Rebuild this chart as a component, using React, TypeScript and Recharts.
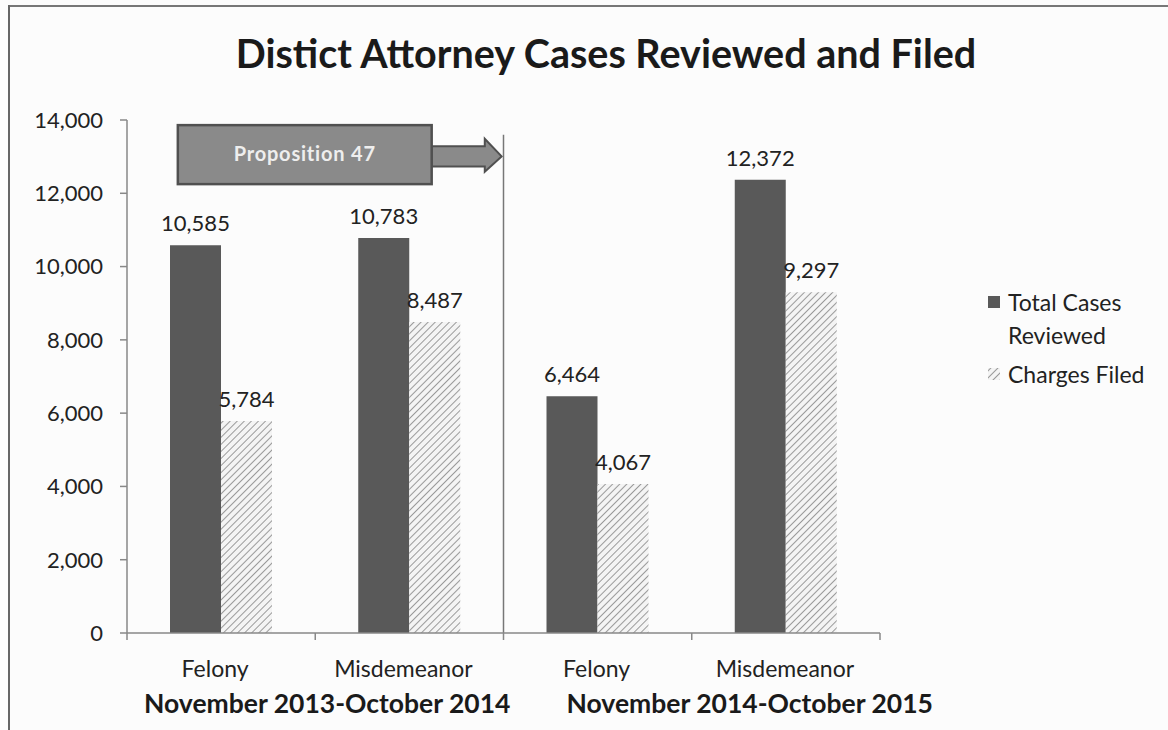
import React from 'react';
import { BarChart, Bar, XAxis, YAxis, LabelList, ReferenceLine, ReferenceArea } from 'recharts';

const categories = ['Felony', 'Misdemeanor', 'Felony', 'Misdemeanor'];
const periods = ['November 2013-October 2014', 'November 2014-October 2015'];
const totalReviewed = [10585, 10783, 6464, 12372];
const chargesFiled = [5784, 8487, 4067, 9297];
const yTicks = [0, 2000, 4000, 6000, 8000, 10000, 12000, 14000];
const seriesNames = ['Total Cases Reviewed', 'Charges Filed'];
const titleText = 'Distict Attorney Cases Reviewed and Filed';
const annotationText = 'Proposition 47';

const data = categories.map((c, i) => ({
  idx: i,
  category: c,
  period: periods[Math.floor(i / 2)],
  reviewed: totalReviewed[i],
  filed: chargesFiled[i],
}));

const W = 1168;
const H = 730;
const M = { top: 120, right: 288, left: 27, bottom: 37 };
const Y_W = 100;
const PLOT_W = W - M.left - M.right - Y_W;
const BW = PLOT_W / categories.length;
const FONT = 'Lato, "Open Sans", sans-serif';
const DARK = '#595959';
const GROUP_SHIFT = [12, 58];

const fmt = (v: number) => v.toLocaleString('en-US');

const CatTick = (props: any) => {
  const { x, y, payload, index } = props;
  const i = payload.value as number;
  const ax = y - 8;
  return (
    <g>
      <line x1={x - BW / 2} x2={x - BW / 2} y1={ax} y2={ax + 7} stroke="#888" strokeWidth={1.5} />
      {index === categories.length - 1 && (
        <line x1={x + BW / 2} x2={x + BW / 2} y1={ax} y2={ax + 7} stroke="#888" strokeWidth={1.5} />
      )}
      <text x={x - (i < 2 ? 6 : 1)} y={ax + 44} textAnchor="middle" fontSize={23} fill="#222" fontFamily={FONT}>
        {categories[i]}
      </text>
      {i % 2 === 0 && (
        <text x={x + BW / 2 + GROUP_SHIFT[i / 2]} y={ax + 80} textAnchor="middle" fontSize={26.5} fontWeight="bold" fill="#1a1a1a" fontFamily={FONT}>
          {periods[Math.floor(i / 2)]}
        </text>
      )}
    </g>
  );
};

const ArrowShape = (props: any) => {
  const { x, y, width, height } = props;
  const bw = width * 0.784;
  const hx = x + width * 0.948;
  const tip = x + width;
  const s1 = y + height * 0.36;
  const s2 = y + height * 0.7;
  const h1 = y + height * 0.23;
  const h2 = y + height * 0.79;
  const pts = [
    [x + bw, s1], [hx, s1], [hx, h1], [tip, (s1 + s2) / 2], [hx, h2], [hx, s2], [x + bw, s2],
  ].map((p) => p.join(',')).join(' ');
  return (
    <g>
      <polygon points={pts} fill="#8a8a8a" stroke="#505050" strokeWidth={2} />
      <rect x={x} y={y} width={bw} height={height} fill="#8a8a8a" stroke="#505050" strokeWidth={2.5} />
      <text x={x + bw / 2} y={y + height / 2 + 6} textAnchor="middle" fontSize={20} fontWeight="bold" fill="#eeeeee" fontFamily={FONT} letterSpacing={0.8}>
        {annotationText}
      </text>
    </g>
  );
};

const Legend = () => (
  <div style={{ position: 'absolute', left: 986, top: 286, fontFamily: FONT, fontSize: 23, color: '#222', lineHeight: '33px' }}>
    <div style={{ display: 'flex', alignItems: 'flex-start' }}>
      <svg width={16} height={33} style={{ marginRight: 6 }}>
        <rect x={2} y={10} width={12} height={12} fill={DARK} />
      </svg>
      <div style={{ width: 150 }}>{seriesNames[0].replace(' Reviewed', '')}<br />Reviewed</div>
    </div>
    <div style={{ display: 'flex', alignItems: 'flex-start', marginTop: 6 }}>
      <svg width={16} height={33} style={{ marginRight: 6 }}>
        <rect x={2} y={10} width={12} height={12} fill="url(#hatch)" />
      </svg>
      <div style={{ whiteSpace: 'nowrap' }}>{seriesNames[1]}</div>
    </div>
  </div>
);

export default function App() {
  return (
    <div style={{ position: 'fixed', left: 0, top: 0, width: W, height: H, background: '#fcfcfc', overflow: 'hidden' }}>
      <div style={{ position: 'absolute', left: 8, top: 5, width: 1160, height: 2, background: '#777' }} />
      <div style={{ position: 'absolute', left: 8, top: 5, width: 2, height: 725, background: '#666' }} />
      <div style={{ position: 'absolute', left: 22, top: 29, width: W, textAlign: 'center', fontFamily: FONT, fontWeight: 'bold', fontSize: 39.5, color: '#1a1a1a' }}>
        {titleText}
      </div>
      <div style={{ position: 'absolute', left: 0, top: 0 }}>
        <BarChart width={W} height={H} data={data} margin={M} barGap={0} barSize={51}>
          <defs>
            <pattern id="hatch" patternUnits="userSpaceOnUse" width={5} height={5} patternTransform="rotate(45)">
              <rect width={5} height={5} fill="#f4f4f4" />
              <line x1={0} y1={0} x2={0} y2={5} stroke="#9a9a9a" strokeWidth={2} />
            </pattern>
          </defs>
          <XAxis dataKey="idx" type="category" tick={<CatTick />} tickLine={false} axisLine={{ stroke: '#888', strokeWidth: 1.5 }} height={60} interval={0} />
          <XAxis xAxisId="n" dataKey="idx" type="number" domain={[-0.5, 3.5]} allowDataOverflow hide />
          <YAxis
            domain={[0, 14000]}
            ticks={yTicks}
            width={Y_W}
            tickFormatter={fmt}
            tick={{ fontSize: 22, fill: '#222', fontFamily: FONT }}
            tickSize={7}
            tickMargin={17}
            axisLine={{ stroke: '#888', strokeWidth: 1.5 }}
            tickLine={{ stroke: '#888', strokeWidth: 1.5 }}
            interval={0}
          />
          <Bar dataKey="reviewed" name={seriesNames[0]} fill={DARK} isAnimationActive={false}>
            <LabelList dataKey="reviewed" position="top" offset={14} formatter={(v: any) => fmt(Number(v))} style={{ fontSize: 22, fill: '#222', fontFamily: FONT }} />
          </Bar>
          <Bar dataKey="filed" name={seriesNames[1]} fill="url(#hatch)" isAnimationActive={false}>
            <LabelList dataKey="filed" position="top" offset={14} formatter={(v: any) => fmt(Number(v))} style={{ fontSize: 22, fill: '#222', fontFamily: FONT }} />
          </Bar>
          <ReferenceLine xAxisId="n" segment={[{ x: 1.5, y: 0 }, { x: 1.5, y: 13600 }]} stroke="#777" strokeWidth={1.5} />
          <ReferenceArea xAxisId="n" x1={-0.23} x2={1.49} y1={12250} y2={13860} shape={<ArrowShape />} ifOverflow="visible" />
        </BarChart>
      </div>
      <Legend />
    </div>
  );
}
